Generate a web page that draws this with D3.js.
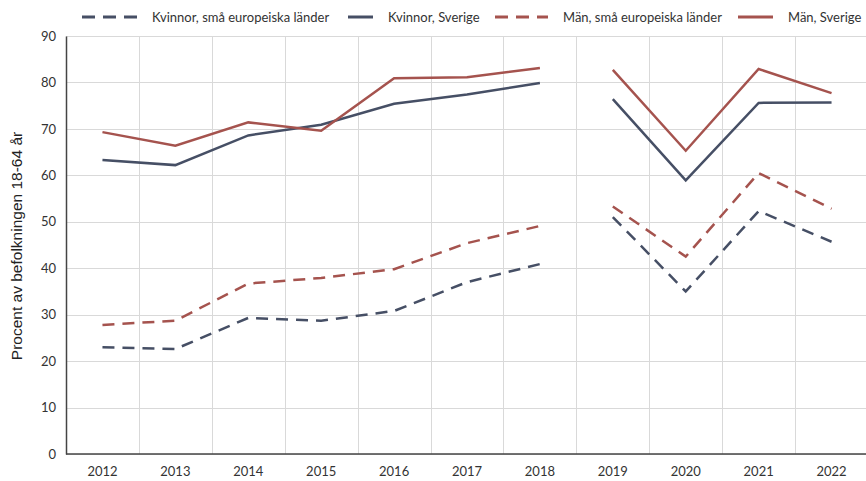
<!DOCTYPE html>
<html>
<head>
<meta charset="utf-8">
<script src="https://cdn.jsdelivr.net/npm/d3@7"></script>
<style>
  body { margin: 0; background: #fff; }
  svg text { font-family: Lato, "Noto Sans", sans-serif; fill: #333; }
</style>
</head>
<body>
<svg id="chart" width="866" height="481"></svg>
<script>
  // Years on the x axis; lines break after 2018
  var years = ["2012", "2013", "2014", "2015", "2016", "2017", "2018", "2019", "2020", "2021", "2022"];
  var breakAfter = "2018";

  var kvinnorSma = [23.0, 22.6, 29.3, 28.7, 30.8, 37.0, 40.9, 51.0, 35.0, 52.3, 45.7];
  var kvinnorSverige = [63.3, 62.2, 68.6, 70.9, 75.4, 77.4, 79.9, 76.4, 58.9, 75.6, 75.7];
  var manSma = [27.8, 28.7, 36.7, 37.9, 39.8, 45.4, 49.1, 53.3, 42.5, 60.5, 52.8];
  var manSverige = [69.3, 66.4, 71.4, 69.6, 80.9, 81.1, 83.1, 82.7, 65.3, 82.9, 77.7];

  var yTicks = [0, 10, 20, 30, 40, 50, 60, 70, 80, 90];
  var yTitle = "Procent av befolkningen 18-64 år";

  var navy = "#464f65", red = "#a5534e";

  var series = [
    { name: "Kvinnor, små europeiska länder", values: kvinnorSma, color: navy, dash: "12,8" },
    { name: "Kvinnor, Sverige", values: kvinnorSverige, color: navy, dash: null },
    { name: "Män, små europeiska länder", values: manSma, color: red, dash: "12,8" },
    { name: "Män, Sverige", values: manSverige, color: red, dash: null }
  ];

  var m = { top: 36, right: 0, bottom: 27, left: 66 };
  var svg = d3.select("#chart");
  var W = +svg.attr("width"), H = +svg.attr("height");

  var x = d3.scaleBand().domain(years).range([m.left, W + 2]);
  var y = d3.scaleLinear().domain([0, 90]).range([H - m.bottom, m.top]);

  // horizontal grid
  svg.append("g").selectAll("line")
    .data(yTicks)
    .enter().append("line")
    .attr("x1", m.left).attr("x2", W)
    .attr("y1", function(d) { return Math.round(y(d)) + 0.5; })
    .attr("y2", function(d) { return Math.round(y(d)) + 0.5; })
    .attr("stroke", "#d9d9d9").attr("stroke-width", 1);

  // vertical grid at band boundaries
  svg.append("g").selectAll("line")
    .data(years.slice(1))
    .enter().append("line")
    .attr("x1", function(d) { return Math.round(x(d)) + 0.5; })
    .attr("x2", function(d) { return Math.round(x(d)) + 0.5; })
    .attr("y1", y(90)).attr("y2", y(0))
    .attr("stroke", "#d9d9d9").attr("stroke-width", 1);

  // axes
  var yAxis = svg.append("g")
    .attr("transform", "translate(" + m.left + ",0)")
    .call(d3.axisLeft(y).tickValues(yTicks).tickSize(0).tickPadding(10));
  yAxis.select(".domain").attr("stroke", "#444").attr("stroke-width", 1.5);
  yAxis.selectAll("text").style("font-size", "13px");

  var xAxis = svg.append("g")
    .attr("transform", "translate(0," + y(0) + ")")
    .call(d3.axisBottom(x).tickSize(0).tickPadding(13));
  xAxis.select(".domain").attr("stroke", "#444").attr("stroke-width", 1.5)
    .attr("d", "M" + m.left + ",0H" + W);
  xAxis.selectAll("text").style("font-size", "13px");

  svg.append("text")
    .attr("transform", "translate(22,246) rotate(-90)")
    .attr("text-anchor", "middle")
    .style("font-family", "'Liberation Sans', Arial, sans-serif")
    .style("font-size", "15.5px")
    .style("fill", "#222")
    .text(yTitle);

  // lines, split into two segments at the break
  var cut = years.indexOf(breakAfter) + 1;
  var line = d3.line()
    .x(function(d) { return x(d.year) + x.bandwidth() / 2; })
    .y(function(d) { return y(d.v); });

  series.forEach(function(s) {
    var pts = years.map(function(yr, i) { return { year: yr, v: s.values[i] }; });
    [pts.slice(0, cut), pts.slice(cut)].forEach(function(seg) {
      svg.append("path")
        .datum(seg)
        .attr("d", line)
        .attr("fill", "none")
        .attr("stroke", s.color)
        .attr("stroke-width", 2.5)
        .attr("stroke-dasharray", s.dash);
    });
  });

  // legend
  var legendX = [82, 348, 495, 738];
  var legendW = [55, 25, 53, 35];
  var legend = svg.append("g").selectAll("g")
    .data(series)
    .enter().append("g")
    .attr("transform", function(d, i) { return "translate(" + legendX[i] + ",17)"; });

  legend.append("line")
    .attr("x1", 0).attr("x2", function(d, i) { return legendW[i]; })
    .attr("stroke", function(d) { return d.color; })
    .attr("stroke-width", 3)
    .attr("stroke-dasharray", function(d) { return d.dash ? "13,8" : null; });

  legend.append("text")
    .attr("x", function(d, i) { return legendW[i] + 15; })
    .attr("dy", "0.35em")
    .style("font-size", "13px")
    .text(function(d) { return d.name; });
</script>
</body>
</html>
